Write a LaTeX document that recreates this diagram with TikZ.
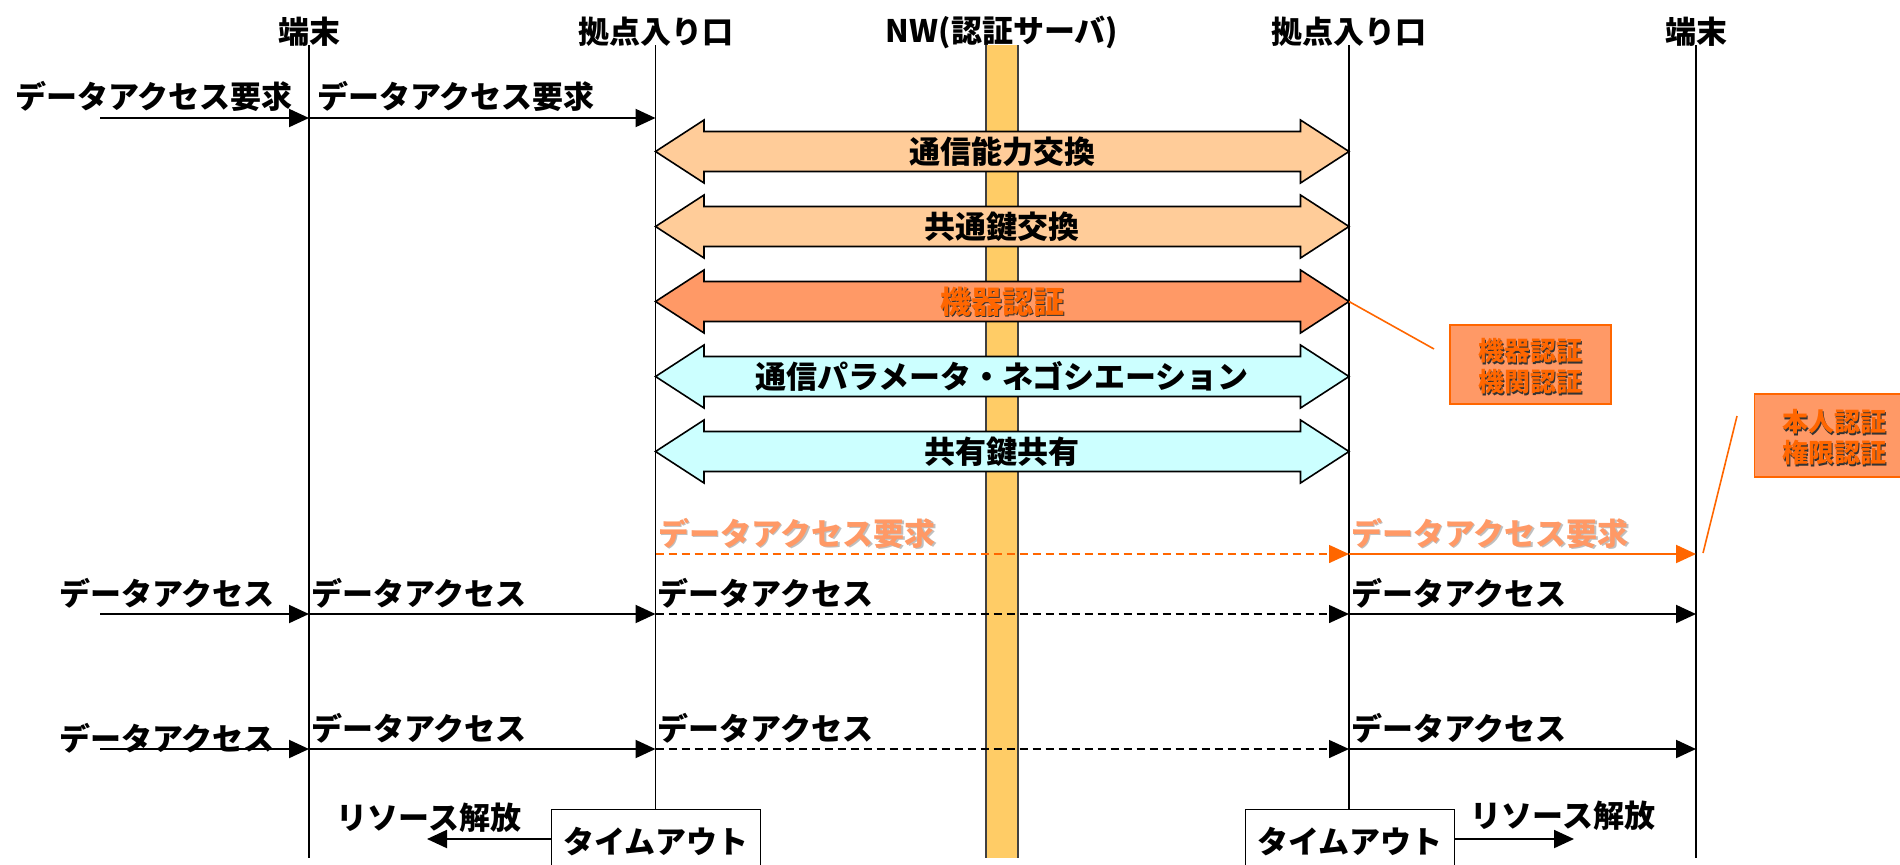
\documentclass[tikz,border=0pt]{standalone}
\usepackage{fontspec}
\setmainfont{Noto Sans CJK JP}
\usetikzlibrary{arrows.meta}
\definecolor{peach}{HTML}{FFCC99}
\definecolor{salmon}{HTML}{FF9966}
\definecolor{cyanl}{HTML}{CCFFFF}
\definecolor{bandc}{HTML}{FFCC66}
\definecolor{orng}{HTML}{FF6600}
\definecolor{lorng}{HTML}{FF9966}
\newcommand\dblarw[2]{%
  \draw[blk, fill=#2] (655.5,#1) -- (704,#1-31.5) -- (704,#1-20) -- (1300.5,#1-20) -- (1300.5,#1-31.5) -- (1349,#1) -- (1300.5,#1+31.5) -- (1300.5,#1+20) -- (704,#1+20) -- (704,#1+31.5) -- cycle;}
\begin{document}
\begin{tikzpicture}[x=0.5pt,y=-0.5pt,
  every node/.style={inner sep=0pt, font=\bfseries\fontsize{15.5}{18}\selectfont},
  life/.style={line width=0.7pt},
  msg/.style={line width=1pt, -{Triangle[length=10pt,width=9pt]}},
  dmsg/.style={line width=0.75pt, dash pattern=on 4pt off 2.5pt, -{Triangle[length=10pt,width=9pt]}},
  omsg/.style={line width=1pt, draw=orng, -{Triangle[length=10pt,width=9pt,fill=orng]}},
  odmsg/.style={line width=0.75pt, draw=orng, dash pattern=on 4pt off 2.5pt, -{Triangle[length=10pt,width=9pt,fill=orng]}},
  blk/.style={draw=black, line width=0.8pt, line join=miter},
  callbox/.style={draw=orng, fill=salmon, line width=0.8pt},
  calltxt/.style={font=\bfseries\fontsize{13}{15.5}\selectfont, align=center},
  cline/.style={draw=orng, line width=0.8pt},
  tbox/.style={draw, line width=0.7pt, fill=white, minimum width=104.5pt, minimum height=36pt, anchor=north}
]
\useasboundingbox (0,0) rectangle (1900,864);
\clip (0,0) rectangle (1900,864);

% headers
\node (h1) at (309,32) {端末};
\node (h2) at (655.5,32) {拠点入り口};
\node (h3) at (1002,32) {NW(認証サーバ)};
\node (h4) at (1349,32) {拠点入り口};
\node (h5) at (1696,32) {端末};

% lifeline coordinates
\coordinate (L1t) at (309,45);   \coordinate (L1b) at (309,858);
\coordinate (L2t) at (655.5,45); \coordinate (L2b) at (655.5,809);
\coordinate (L3t) at (1349,45);  \coordinate (L3b) at (1349,809);
\coordinate (L4t) at (1696,45);  \coordinate (L4b) at (1696,858);

% NW band
\fill[bandc] (986,45) rectangle (1018,858);
\draw[black!75, line width=0.6pt] (986,45) -- (986,858) (1018,45) -- (1018,858);

% lifelines
\draw[life] (L1t) -- (L1b);
\draw[life] (L2t) -- (L2b);
\draw[life] (L3t) -- (L3b);
\draw[life] (L4t) -- (L4b);

% block arrows
\dblarw{151.5}{peach}
\dblarw{226.5}{peach}
\dblarw{301.5}{salmon}
\dblarw{376.5}{cyanl}
\dblarw{451.5}{cyanl}
\node (b1) at (1002,151.5) {通信能力交換};
\node (b2) at (1002,226.5) {共通鍵交換};
\node[text=black!80] (b3s) at (1003.5,303) {機器認証};
\node[text=orng] (b3) at (1002,301.5) {機器認証};
\node (b4) at (1002,376.5) {通信パラメータ・ネゴシエーション};
\node (b5) at (1002,451.5) {共有鍵共有};

% row 1
\coordinate (s1) at (100,118);
\draw[msg] (s1) -- (L1t |- s1);
\draw[msg] (L1t |- s1) -- (L2t |- s1);
\node (t1a) at (154,96) {データアクセス要求};
\node[anchor=west] (t1b) at (317,96) {データアクセス要求};

% orange row
\coordinate (so) at (0,554);
\draw[odmsg] (L2t |- so) -- (L3t |- so);
\draw[omsg] (L3t |- so) -- (L4t |- so);
\node[anchor=west, text=black!25] (toas) at (659.5,534.5) {データアクセス要求};
\node[anchor=west, text=lorng] (toa) at (658,533) {データアクセス要求};
\node[anchor=west, text=black!25] (tobs) at (1352.5,534.5) {データアクセス要求};
\node[anchor=west, text=lorng] (tob) at (1351,533) {データアクセス要求};

% row 2
\coordinate (s2) at (100,614);
\draw[msg] (s2) -- (L1t |- s2);
\draw[msg] (L1t |- s2) -- (L2t |- s2);
\draw[dmsg] (L2t |- s2) -- (L3t |- s2);
\draw[msg] (L3t |- s2) -- (L4t |- s2);
\node (t2a) at (167,593) {データアクセス};
\node[anchor=west] (t2b) at (311,593) {データアクセス};
\node[anchor=west] (t2c) at (657.5,593) {データアクセス};
\node[anchor=west] (t2d) at (1351,593) {データアクセス};

% row 3
\coordinate (s3) at (100,749);
\draw[msg] (s3) -- (L1t |- s3);
\draw[msg] (L1t |- s3) -- (L2t |- s3);
\draw[dmsg] (L2t |- s3) -- (L3t |- s3);
\draw[msg] (L3t |- s3) -- (L4t |- s3);
\node (t3a) at (167,738) {データアクセス};
\node[anchor=west] (t3b) at (311,728) {データアクセス};
\node[anchor=west] (t3c) at (657.5,728) {データアクセス};
\node[anchor=west] (t3d) at (1351,728) {データアクセス};

% timeout boxes
\node[tbox] (to1) at (656,809) {};
\node (to1t) at (656,842) {タイムアウト};
\coordinate (rl1) at (427,839);
\draw[msg] (to1.west |- rl1) -- (rl1);
\node (rl1t) at (429,818) {リソース解放};

\node[tbox] (to2) at (1349.7,809) {};
\node (to2t) at (1349.7,842) {タイムアウト};
\coordinate (rl2) at (1574,839);
\draw[msg] (to2.east |- rl2) -- (rl2);
\node (rl2t) at (1563,816) {リソース解放};

% callouts
\node[callbox, minimum width=80.5pt, minimum height=39.5pt, anchor=north west] (cb1) at (1449,324) {};
\node[calltxt, text=black!80] (cb1s) at (1531.5,368) {機器認証\\機関認証};
\node[calltxt, text=orng] (cb1t) at (1530,366.5) {機器認証\\機関認証};
\coordinate (a3tip) at (1349,301.5);
\coordinate (c1a) at (1434,349);
\draw[cline] (a3tip) -- (c1a);

\node[callbox, minimum width=76pt, minimum height=41.5pt, anchor=north west] (cb2) at (1753.5,393) {};
\node[calltxt, text=black!80] (cb2s) at (1835.5,439) {本人認証\\権限認証};
\node[calltxt, text=orng] (cb2t) at (1834,437.5) {本人認証\\権限認証};
\coordinate (c2a) at (1737,416);
\coordinate (c2b) at (1703,553);
\draw[cline] (c2a) -- (c2b);
\end{tikzpicture}
\end{document}
